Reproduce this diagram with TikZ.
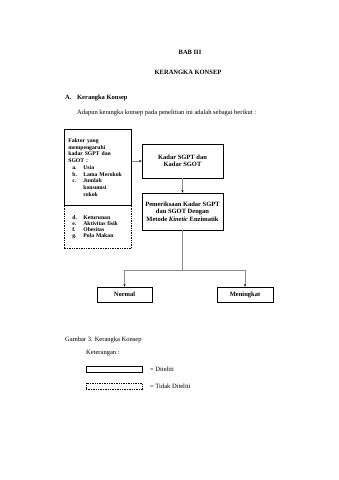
\documentclass[tikz,border=0pt]{standalone}
\usepackage{fontspec}
\setmainfont{Liberation Serif}
\usetikzlibrary{arrows.meta}
\newcommand{\itm}[2]{\hspace*{4pt}\makebox[11pt][l]{#1}#2}
\begin{document}
\begin{tikzpicture}[x=1pt,y=-1pt,
  txt/.style={inner sep=0pt,font=\fontsize{6.5}{7.5}\selectfont},
  boxs/.style={draw,line width=0.7pt,inner sep=2pt,font=\fontsize{6.5}{7.5}\selectfont\bfseries,align=center},
  fbox/.style={draw,line width=0.7pt,anchor=north west,inner xsep=4pt,inner ysep=2pt,font=\fontsize{5.7}{6.75}\selectfont\bfseries,align=left},
  conn/.style={draw=black!45,line width=0.6pt},
  arr/.style={conn,-{Stealth[length=2.5pt,width=2.2pt,black]}},
  dsh/.style={dash pattern=on 1.4pt off 1pt}]
\useasboundingbox (0,0) rectangle (339,480);
\node[txt,font=\fontsize{6.5}{7.5}\selectfont\bfseries] (t1) at (190,52) {BAB III};
\node[txt,font=\fontsize{6.5}{7.5}\selectfont\bfseries] (t2) at (188,72) {KERANGKA KONSEP};
\node[txt,anchor=west,font=\fontsize{6.5}{7.5}\selectfont\bfseries] (secA) at (65,98) {\makebox[12pt][l]{A.}Kerangka Konsep};
\node[txt,anchor=west] (intro) at (77,113) {Adapun kerangka konsep pada penelitian ini adalah sebagai berikut :};
% factor boxes
\node[fbox,minimum width=67pt,minimum height=76pt,text width=59pt] (faktor) at (64,129) {Faktor yang\\mempengaruhi\\kadar SGPT dan\\SGOT :\\\itm{a.}{Usia}\\\itm{b.}{Lama Merokok}\\\itm{c.}{Jumlah}\\\hspace*{15pt}konsumsi\\\hspace*{15pt}rokok};
\node[fbox,dsh,minimum width=67pt,minimum height=43pt,text width=59pt,font=\fontsize{5.7}{6.1}\selectfont\bfseries] (lain) at (64,205) {\itm{d.}{Keturunan}\\\itm{e.}{Aktivitas fisik}\\\itm{f.}{Obesitas}\\\itm{g.}{Pola Makan}};
% main boxes
\node[boxs,minimum width=81pt,minimum height=34pt] (kadar) at (182.5,161) {Kadar SGPT dan\\Kadar SGOT};
\node[boxs,minimum width=81pt,minimum height=37pt] (periksa) at (182.5,211.5) {Pemeriksaan Kadar SGPT\\dan SGOT Dengan\\Metode \textit{Kinetic} Enzimatik};
\node[boxs,minimum width=55pt,minimum height=15pt] (normal) at (124.5,294.5) {Normal};
\node[boxs,minimum width=56pt,minimum height=15pt] (naik) at (245,294.5) {Meningkat};
\coordinate (j) at (182.5,270);
% connectors
\draw[arr] (faktor.east |- kadar.west) -- (kadar.west);
\draw[arr] (kadar.south) -- (periksa.north);
\draw[conn] (periksa.south) -- (j);
\draw[arr] (j) -| (normal.north);
\draw[arr] (j) -| (naik.north);
% caption and legend
\node[txt,anchor=west] (cap) at (65,340) {Gambar 3. Kerangka Konsep};
\node[txt,anchor=west] (ket) at (86,353) {Keterangan :};
\node[draw,line width=0.7pt,minimum width=56pt,minimum height=5.5pt,inner sep=0pt] (lg1) at (114,369.5) {};
\node[draw,dsh,line width=0.7pt,minimum width=56pt,minimum height=6pt,inner sep=0pt] (lg2) at (114,386) {};
\node[txt,anchor=west] (l1) at (150,369.5) {= Diteliti};
\node[txt,anchor=west] (l2) at (150,386) {= Tidak Diteliti};
\end{tikzpicture}
\end{document}
